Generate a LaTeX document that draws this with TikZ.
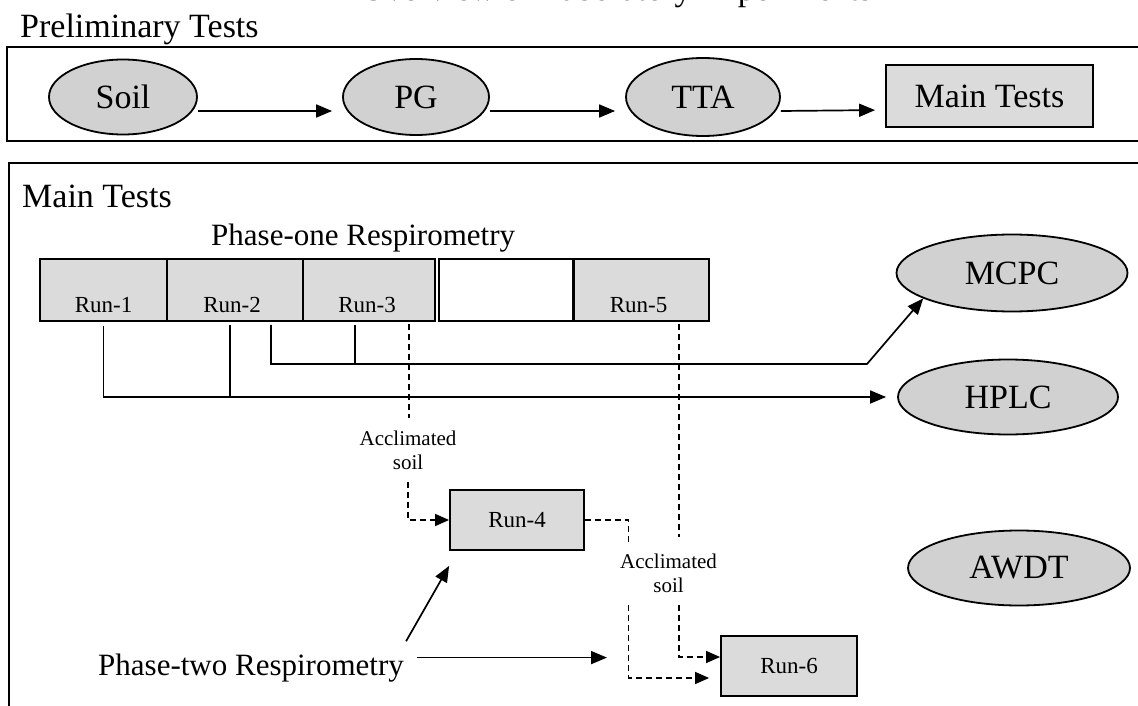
\documentclass[tikz,border=0pt]{standalone}
\usepackage{fontspec}
\setmainfont{Liberation Serif}
\usetikzlibrary{arrows.meta,shapes.geometric}
\begin{document}
\begin{tikzpicture}[x=1pt,y=-1pt,
  big/.style={font=\fontsize{34}{38}\selectfont},
  mid/.style={font=\fontsize{31}{35}\selectfont},
  ell/.style={ellipse, draw, line width=1.8pt, fill=black!18, inner sep=0pt, font=\fontsize{34}{38}\selectfont},
  runbox/.style={rectangle, draw, line width=1.8pt, fill=black!14, inner sep=0pt, minimum height=62pt, font=\fontsize{23}{26}\selectfont},
  runtxt/.style={font=\fontsize{23}{26}\selectfont, inner sep=0pt, anchor=base},
  acc/.style={font=\fontsize{21}{24}\selectfont, align=center, inner xsep=2pt, inner ysep=12pt},
  frame/.style={line width=2.4pt},
  arr/.style={line width=1.7pt, -{Triangle[length=16pt,width=13pt]}},
  con/.style={line width=1.7pt},
  dsh/.style={line width=1.4pt, dash pattern=on 6pt off 4pt},
  darr/.style={dsh, -{Triangle[length=14pt,width=12pt]}},
]
\useasboundingbox (0,0) rectangle (1138,706);
\clip (0,0) rectangle (1138,706);
\fill[white] (0,0) rectangle (1138,706);

% ---------- Preliminary tests ----------
\node[big, anchor=base west, inner sep=0pt] (title) at (361,1) {Overview of Laboratory Experiments};
\node[big, anchor=base west, inner sep=0pt] (prelim) at (20,38) {Preliminary Tests};
\draw[frame] (7,47) rectangle (1170,141);

\node[ell, minimum width=148pt, minimum height=75pt] (soil) at (123,97) {Soil};
\node[ell, minimum width=146pt, minimum height=76pt] (pg) at (416,97) {PG};
\node[ell, minimum width=154pt, minimum height=78pt] (tta) at (703,97) {TTA};
\node[rectangle, draw, line width=1.8pt, fill=black!14, inner sep=0pt,
      minimum width=207pt, minimum height=62pt, big] (maintop) at (989.5,96) {Main Tests};

\draw[arr, shorten >=10pt] ([yshift=-14pt]soil.east) -- ([yshift=-14pt]pg.west);
\draw[arr, shorten >=10pt] ([yshift=-14pt]pg.east) -- ([yshift=-14pt]tta.west);
\draw[arr, shorten >=10pt] ([yshift=-14pt]tta.east) -- ([yshift=-14pt]maintop.west);

% ---------- Main tests ----------
\draw[frame] (9,720) -- (9,163) -- (1170,163);
\node[big, anchor=base west, inner sep=0pt] (mainhd) at (22,207) {Main Tests};
\node[mid, anchor=base west, inner sep=0pt] (ph1) at (211,245) {Phase-one Respirometry};

\node[runbox, minimum width=127pt] (run1) at (103.5,290) {};
\node[runbox, minimum width=136pt] (run2) at (235,290) {};
\node[runbox, minimum width=132pt] (run3) at (369,290) {};
\node[runbox, minimum width=134pt, fill=white] (run0) at (506,290) {};
\node[runbox, minimum width=135pt] (run5) at (641.5,290) {};
\node[runtxt] (run1t) at ([yshift=9pt]run1.south) {Run-1};
\node[runtxt] (run2t) at ([xshift=-3pt,yshift=9pt]run2.south) {Run-2};
\node[runtxt] (run3t) at ([xshift=-2pt,yshift=9pt]run3.south) {Run-3};
\node[runtxt] (run5t) at ([xshift=-3pt,yshift=9pt]run5.south) {Run-5};

\node[ell, minimum width=231pt, minimum height=77pt] (mcpc) at (1012,273) {MCPC};
\node[ell, minimum width=220pt, minimum height=75pt] (hplc) at (1008,397) {HPLC};
\node[ell, minimum width=222pt, minimum height=75pt] (awdt) at (1019,568) {AWDT};

\node[runbox, minimum width=134pt, minimum height=60pt] (run4) at (517,520) {Run-4};
\node[runbox, minimum width=136pt, minimum height=60pt] (run6) at (789,666) {Run-6};

% solid connectors to HPLC and MCPC
\coordinate (r1d) at ([yshift=-4pt]run1.south);
\draw[arr, shorten >=11pt] (r1d) |- (hplc.west);
\coordinate (r2d) at ([xshift=-5pt,yshift=-3pt]run2.south);
\draw[con] (r2d) -- (r2d |- hplc.west);
\coordinate (r2e) at ([xshift=36pt,yshift=-3pt]run2.south);
\coordinate (bend) at (867,364);
\draw[arr] (r2e) |- (bend) -- (mcpc.196);
\coordinate (r3d) at ([xshift=-14pt,yshift=-3pt]run3.south);
\draw[con] (r3d) -- (r3d |- bend);

% acclimated soil (dashed)
\node[acc] (acc1) at (408,450) {Acclimated\\soil};
\coordinate (r3x) at ([xshift=40pt,yshift=-2pt]run3.south);
\draw[dsh] (r3x) -- (r3x |- acc1.north);
\draw[darr] (acc1.south) |- (run4.west);

\node[acc] (acc2) at (668.5,573.5) {Acclimated\\soil};
\draw[dsh] (run4.east) -| ([xshift=-40pt]acc2.north);
\coordinate (a2l) at ([xshift=-40pt]acc2.south);
\draw[darr, shorten >=11pt] (a2l) |- ([yshift=-12pt]run6.west);
\coordinate (r5d) at ([xshift=37.5pt,yshift=-2pt]run5.south);
\draw[dsh, shorten >=5pt] (r5d) -- (r5d |- acc2.north);
\draw[darr] (r5d |- acc2.south) |- ([yshift=9pt]run6.west);

% phase two
\node[mid, anchor=base west, inner sep=0pt] (ph2) at (98,675) {Phase-two Respirometry};
\coordinate (p2a) at ([xshift=2pt,yshift=12pt]ph2.north east);
\draw[arr] (p2a) -- ([yshift=-15pt]run4.south west);
\coordinate (p2b) at ([xshift=13pt,yshift=10pt]ph2.east);
\coordinate (p2endx) at (607,0);
\draw[arr] (p2b) -- (p2b -| p2endx);
\end{tikzpicture}
\end{document}
